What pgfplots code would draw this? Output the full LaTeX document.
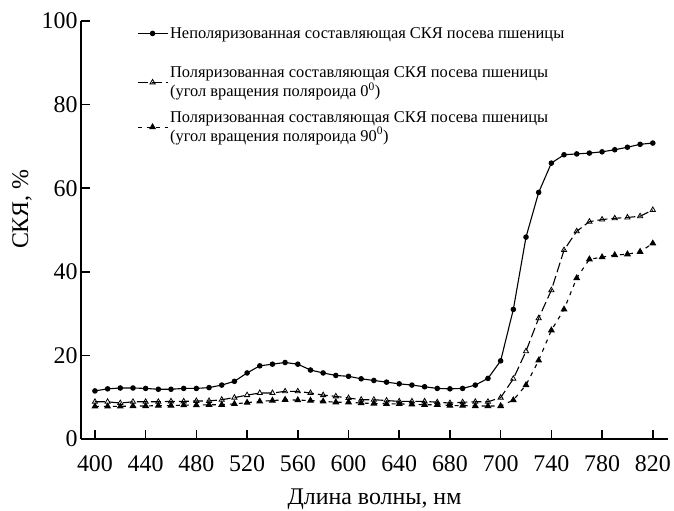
\documentclass[border=0pt]{standalone}
\usepackage{fontspec}
\setmainfont{Liberation Serif}
\usepackage{pgfplots}
\pgfplotsset{compat=1.18}
\begin{document}
\begin{tikzpicture}
\begin{axis}[
  scale only axis,
  width=587bp, height=418bp,
  xmin=389, xmax=852, ymin=0, ymax=100,
  axis lines=left,
  axis line style={-, line width=1.6bp},
  every tick/.style={black, line width=1.6bp},
  major tick length=9bp,
  tick align=inside,
  xtick={400,440,...,840},
  xticklabels={400,440,480,520,560,600,640,680,700,740,780,820},
  ytick={0,20,...,100},
  /pgf/number format/assume math mode=true,
  tick label style={font=\fontsize{24}{28}\selectfont},
  xticklabel style={yshift=-13bp},
  xlabel={Длина волны, нм},
  ylabel={СКЯ, \%},
  every axis x label/.style={at={(axis description cs:0.5,0)}, anchor=center, yshift=-60bp, font=\fontsize{24}{28}\selectfont},
  every axis y label/.style={at={(axis description cs:-0.1005,0.55)}, rotate=90, anchor=center, font=\fontsize{24}{28}\selectfont},
  legend style={draw=none, fill=none, at={(axis description cs:0.09,0.995)}, anchor=north west,
    font=\fontsize{16.5}{17}\selectfont, cells={anchor=west, align=left}, row sep=10bp},
  legend image code/.code={\draw[mark repeat=2, mark phase=2] plot coordinates {(0bp,0bp) (15bp,0bp) (30bp,0bp)};},
]
\coordinate (O) at (rel axis cs:0,0);
\addplot[black, line width=1.1bp, mark=*, mark size=2.2bp,
  legend image code/.code={\path (0bp,-21bp); \draw[mark repeat=2, mark phase=2] plot coordinates {(0bp,0bp) (15bp,0bp) (30bp,0bp)};}] coordinates {
(400,11.5)(410,12.0)(420,12.2)(430,12.2)(440,12.1)(450,11.9)(460,11.9)(470,12.1)(480,12.1)(490,12.3)
(500,12.9)(510,13.8)(520,15.8)(530,17.5)(540,17.9)(550,18.3)(560,17.9)(570,16.5)(580,15.8)(590,15.2)
(600,15.0)(610,14.4)(620,14.0)(630,13.6)(640,13.2)(650,12.9)(660,12.5)(670,12.1)(680,12.0)(690,12.1)
(700,12.9)(710,14.5)(720,18.7)(730,31.0)(740,48.3)(750,59.0)(760,66.0)(770,68.0)(780,68.2)(790,68.4)
(800,68.7)(810,69.2)(820,69.8)(830,70.5)(840,70.8)};
\addlegendentry{Неполяризованная составляющая СКЯ посева пшеницы}
\addplot[black, line width=1.1bp, dash pattern=on 10bp off 4bp, mark=triangle, mark size=3bp, mark options={solid, line width=0.8bp}] coordinates {
(400,8.9)(410,8.9)(420,8.6)(430,8.9)(440,8.9)(450,8.9)(460,9.0)(470,9.0)(480,9.1)(490,9.1)
(500,9.4)(510,9.9)(520,10.5)(530,11.0)(540,11.0)(550,11.4)(560,11.4)(570,11.0)(580,10.5)(590,10.2)
(600,9.8)(610,9.4)(620,9.4)(630,9.2)(640,9.0)(650,9.0)(660,9.0)(670,8.8)(680,8.6)(690,8.8)
(700,8.9)(710,8.9)(720,9.9)(730,14.4)(740,21.0)(750,28.9)(760,35.6)(770,45.2)(780,49.7)(790,52.0)
(800,52.5)(810,52.8)(820,53.0)(830,53.3)(840,54.8)};
\addlegendentry{Поляризованная составляющая СКЯ посева пшеницы\\ (угол вращения поляроида 0\textsuperscript{0})}
\addplot[black, line width=1.1bp, dash pattern=on 4bp off 5bp, mark=triangle*, mark size=3bp, mark options={solid}] coordinates {
(400,7.8)(410,7.8)(420,7.8)(430,7.9)(440,7.9)(450,8.0)(460,8.0)(470,8.1)(480,8.1)(490,8.2)
(500,8.2)(510,8.4)(520,8.7)(530,9.0)(540,9.2)(550,9.4)(560,9.3)(570,9.2)(580,9.0)(590,8.8)
(600,8.8)(610,8.6)(620,8.5)(630,8.4)(640,8.4)(650,8.3)(660,8.2)(670,8.2)(680,8.0)(690,8.0)
(700,7.9)(710,7.9)(720,7.9)(730,9.3)(740,12.9)(750,18.8)(760,26.0)(770,31.0)(780,38.5)(790,43.0)
(800,43.5)(810,44.0)(820,44.2)(830,44.8)(840,46.8)};
\addlegendentry{Поляризованная составляющая СКЯ посева пшеницы\\ (угол вращения поляроида 90\textsuperscript{0})}
\end{axis}
\pgfresetboundingbox
\path[use as bounding box] (O) ++(-81bp,-72bp) rectangle ++(674bp,511bp);
\end{tikzpicture}
\end{document}
